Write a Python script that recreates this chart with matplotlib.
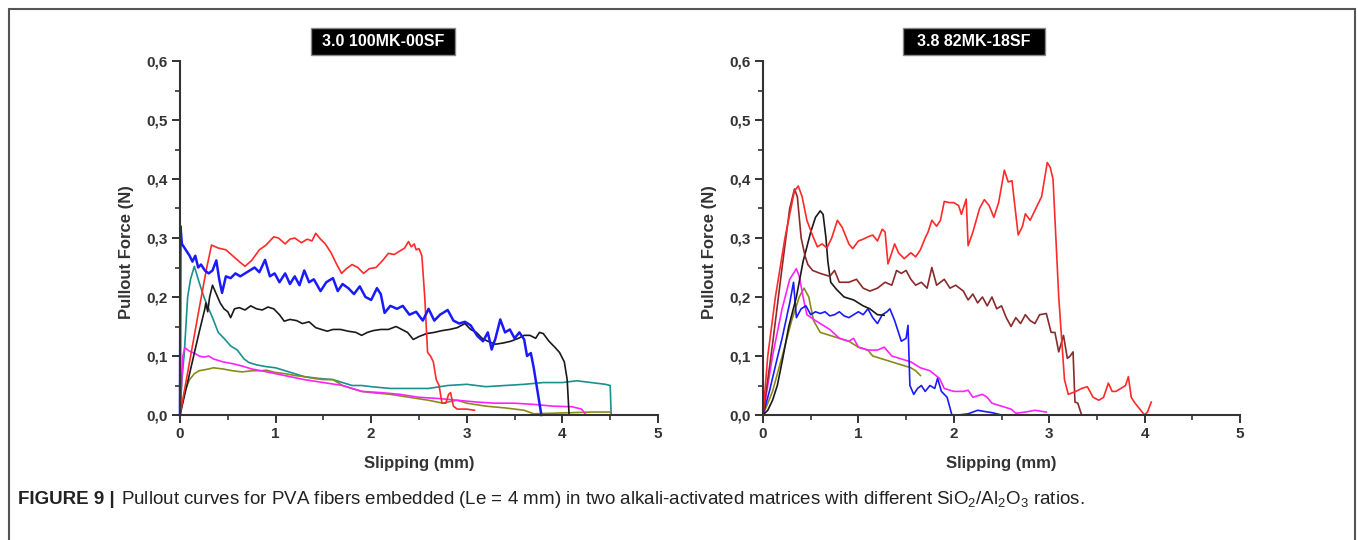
import matplotlib
matplotlib.use("Agg")
import matplotlib.pyplot as plt
from matplotlib.ticker import MultipleLocator, FuncFormatter
from matplotlib.patches import Rectangle

plt.rcParams['font.family'] = ['Liberation Sans', 'DejaVu Sans']
plt.rcParams['mathtext.fontset'] = 'custom'
plt.rcParams['mathtext.rm'] = 'Liberation Sans'
plt.rcParams['mathtext.it'] = 'Liberation Sans'
plt.rcParams['mathtext.bf'] = 'Liberation Sans:bold'

# ---------------- data ----------------
titles = ["3.0 100MK-00SF", "3.8 82MK-18SF"]
x_label = "Slipping (mm)"
y_label = "Pullout Force (N)"
caption_bold = "FIGURE 9 |"
caption_rest = ("Pullout curves for PVA fibers embedded (Le = 4 mm) in two alkali-activated "
                "matrices with different SiO$_2$/Al$_2$O$_3$ ratios.")

# Left panel (3.0 100MK-00SF)
L_red_x = [0, 0.1, 0.2, 0.28, 0.33, 0.4, 0.48, 0.55, 0.62, 0.68, 0.75, 0.83, 0.9, 0.98, 1.03, 1.1,
           1.15, 1.2, 1.27, 1.33, 1.38, 1.42, 1.47, 1.52, 1.58, 1.64, 1.69, 1.74, 1.8, 1.86, 1.92,
           1.98, 2.05, 2.12, 2.18, 2.24, 2.3, 2.35, 2.39, 2.42, 2.45, 2.47, 2.5, 2.53, 2.56, 2.59,
           2.62, 2.65, 2.68, 2.71, 2.74, 2.78, 2.81, 2.83, 2.86, 2.9, 3.0, 3.08]
L_red_y = [0, 0.09, 0.18, 0.25, 0.288, 0.283, 0.28, 0.27, 0.26, 0.252, 0.262, 0.28, 0.288, 0.302,
           0.3, 0.29, 0.298, 0.3, 0.292, 0.298, 0.295, 0.308, 0.298, 0.29, 0.275, 0.255, 0.24,
           0.248, 0.255, 0.25, 0.24, 0.248, 0.25, 0.262, 0.274, 0.272, 0.278, 0.283, 0.294, 0.285,
           0.29, 0.28, 0.282, 0.27, 0.2, 0.106, 0.1, 0.09, 0.06, 0.05, 0.02, 0.02, 0.035, 0.038,
           0.015, 0.01, 0.01, 0.008]

L_blue_x = [0, 0.005, 0.02, 0.06, 0.1, 0.13, 0.16, 0.19, 0.22, 0.26, 0.3, 0.34, 0.38, 0.41, 0.44,
            0.48, 0.53, 0.58, 0.63, 0.68, 0.73, 0.78, 0.83, 0.89, 0.94, 0.99, 1.04, 1.1, 1.15, 1.2,
            1.25, 1.3, 1.35, 1.4, 1.47, 1.53, 1.6, 1.65, 1.7, 1.76, 1.82, 1.88, 1.94, 2.0, 2.06,
            2.1, 2.14, 2.2, 2.27, 2.33, 2.4, 2.47, 2.54, 2.6, 2.66, 2.72, 2.8, 2.86, 2.92, 2.98,
            3.04, 3.11, 3.17, 3.22, 3.26, 3.3, 3.35, 3.4, 3.45, 3.5, 3.55, 3.6, 3.63, 3.67, 3.7,
            3.73, 3.76, 3.78]
L_blue_y = [0, 0.32, 0.29, 0.28, 0.27, 0.26, 0.27, 0.25, 0.255, 0.245, 0.24, 0.245, 0.262, 0.23,
            0.207, 0.235, 0.232, 0.24, 0.235, 0.24, 0.245, 0.25, 0.242, 0.263, 0.235, 0.24, 0.225,
            0.24, 0.222, 0.235, 0.22, 0.245, 0.225, 0.23, 0.21, 0.225, 0.232, 0.21, 0.222, 0.215,
            0.205, 0.218, 0.2, 0.195, 0.215, 0.205, 0.173, 0.185, 0.18, 0.185, 0.17, 0.175, 0.16,
            0.18, 0.16, 0.17, 0.178, 0.16, 0.155, 0.158, 0.152, 0.134, 0.125, 0.14, 0.111, 0.13,
            0.162, 0.14, 0.145, 0.13, 0.14, 0.128, 0.1, 0.105, 0.08, 0.05, 0.02, 0]

L_black_x = [0, 0.1, 0.2, 0.26, 0.27, 0.29, 0.31, 0.34, 0.38, 0.42, 0.46, 0.5, 0.53, 0.57, 0.62,
             0.68, 0.74, 0.8, 0.86, 0.92, 0.98, 1.04, 1.09, 1.15, 1.22, 1.28, 1.35, 1.42, 1.48,
             1.54, 1.6, 1.68, 1.76, 1.84, 1.9, 1.96, 2.02, 2.1, 2.18, 2.26, 2.32, 2.38, 2.44, 2.5,
             2.58, 2.66, 2.74, 2.82, 2.9, 2.98, 3.04, 3.1, 3.16, 3.22, 3.3, 3.38, 3.46, 3.54, 3.6,
             3.66, 3.72, 3.76, 3.8, 3.86, 3.92, 3.97, 4.02, 4.05, 4.07]
L_black_y = [0, 0.07, 0.14, 0.18, 0.19, 0.175, 0.2, 0.22, 0.205, 0.19, 0.18, 0.175, 0.165, 0.18,
             0.182, 0.178, 0.185, 0.18, 0.178, 0.183, 0.18, 0.17, 0.159, 0.162, 0.16, 0.155,
             0.158, 0.148, 0.145, 0.142, 0.145, 0.145, 0.142, 0.14, 0.135, 0.14, 0.143, 0.145,
             0.145, 0.15, 0.145, 0.14, 0.128, 0.133, 0.138, 0.14, 0.143, 0.145, 0.148, 0.155,
             0.145, 0.14, 0.13, 0.125, 0.12, 0.122, 0.125, 0.13, 0.135, 0.135, 0.13, 0.14, 0.138,
             0.125, 0.115, 0.106, 0.09, 0.06, 0]

L_teal_x = [0, 0.02, 0.045, 0.08, 0.11, 0.15, 0.2, 0.25, 0.29, 0.34, 0.4, 0.46, 0.53, 0.6, 0.67,
            0.72, 0.8, 0.9, 1.0, 1.1, 1.2, 1.3, 1.45, 1.6, 1.7, 1.8, 1.9, 2.0, 2.2, 2.4, 2.6, 2.8,
            3.0, 3.2, 3.4, 3.6, 3.8, 4.0, 4.15, 4.3, 4.45, 4.5, 4.51]
L_teal_y = [0, 0.06, 0.105, 0.2, 0.23, 0.252, 0.225, 0.2, 0.184, 0.165, 0.14, 0.13, 0.117, 0.11,
            0.095, 0.089, 0.085, 0.082, 0.08, 0.075, 0.07, 0.065, 0.062, 0.06, 0.055, 0.05, 0.05,
            0.048, 0.045, 0.045, 0.045, 0.05, 0.052, 0.048, 0.05, 0.052, 0.055, 0.055, 0.058,
            0.055, 0.052, 0.05, 0]

L_mag_x = [0, 0.03, 0.05, 0.1, 0.15, 0.2, 0.25, 0.3, 0.35, 0.45, 0.55, 0.65, 0.75, 0.85, 1.0,
           1.15, 1.3, 1.5, 1.7, 1.9, 2.1, 2.3, 2.5, 2.7, 2.9, 3.1, 3.3, 3.5, 3.7, 3.9, 4.1, 4.2,
           4.25]
L_mag_y = [0, 0.1, 0.114, 0.108, 0.105, 0.1, 0.098, 0.1, 0.095, 0.09, 0.087, 0.083, 0.078,
           0.075, 0.07, 0.065, 0.06, 0.055, 0.05, 0.04, 0.038, 0.035, 0.03, 0.028, 0.025, 0.022,
           0.02, 0.02, 0.018, 0.015, 0.014, 0.01, 0]

L_olive_x = [0, 0.05, 0.1, 0.15, 0.2, 0.3, 0.35, 0.45, 0.55, 0.65, 0.75, 0.85, 0.9, 1.0, 1.1,
             1.2, 1.3, 1.4, 1.5, 1.6, 1.7, 1.8, 1.9, 2.0, 2.2, 2.4, 2.6, 2.75, 2.8, 2.9, 3.0, 3.2,
             3.4, 3.6, 3.7, 3.9, 4.1, 4.3, 4.5]
L_olive_y = [0, 0.04, 0.06, 0.07, 0.075, 0.078, 0.08, 0.078, 0.075, 0.073, 0.075, 0.075, 0.076,
             0.072, 0.07, 0.067, 0.065, 0.062, 0.06, 0.06, 0.05, 0.045, 0.04, 0.038, 0.035, 0.03,
             0.025, 0.02, 0.022, 0.025, 0.02, 0.015, 0.012, 0.008, 0.002, 0.003, 0.004, 0.005,
             0.005]

# Right panel (3.8 82MK-18SF)
R_red_x = [0, 0.05, 0.13, 0.23, 0.33, 0.37, 0.41, 0.46, 0.52, 0.57, 0.62, 0.67, 0.72, 0.78, 0.83,
           0.9, 0.94, 1.0, 1.05, 1.1, 1.15, 1.2, 1.25, 1.28, 1.31, 1.35, 1.38, 1.42, 1.48, 1.55,
           1.6, 1.65, 1.7, 1.73, 1.77, 1.82, 1.86, 1.9, 1.95, 2.0, 2.05, 2.08, 2.13, 2.15, 2.2,
           2.27, 2.32, 2.37, 2.42, 2.47, 2.53, 2.57, 2.61, 2.675, 2.72, 2.75, 2.8, 2.86, 2.92,
           2.98, 3.01, 3.04, 3.07, 3.1, 3.13, 3.16, 3.2, 3.28, 3.34, 3.4, 3.46, 3.52, 3.57, 3.62,
           3.66, 3.7, 3.75, 3.8, 3.83, 3.86, 3.9, 3.95, 4.0, 4.03, 4.07]
R_red_y = [0, 0.1, 0.2, 0.3, 0.38, 0.388, 0.37, 0.33, 0.304, 0.285, 0.29, 0.283, 0.3, 0.33,
           0.318, 0.29, 0.282, 0.295, 0.298, 0.302, 0.305, 0.295, 0.315, 0.31, 0.256, 0.275,
           0.29, 0.275, 0.265, 0.275, 0.268, 0.28, 0.3, 0.31, 0.33, 0.32, 0.33, 0.362, 0.36,
           0.36, 0.355, 0.34, 0.366, 0.287, 0.31, 0.35, 0.365, 0.355, 0.335, 0.36, 0.415, 0.395,
           0.397, 0.305, 0.32, 0.341, 0.33, 0.35, 0.37, 0.428, 0.42, 0.4, 0.3, 0.2, 0.13, 0.06,
           0.035, 0.04, 0.045, 0.048, 0.03, 0.025, 0.03, 0.054, 0.04, 0.04, 0.045, 0.05, 0.065,
           0.03, 0.02, 0.01, 0.0, 0.005, 0.022]

R_brown_x = [0, 0.1, 0.2, 0.28, 0.33, 0.36, 0.4, 0.44, 0.47, 0.52, 0.6, 0.7, 0.75, 0.8, 0.9,
             0.98, 1.05, 1.12, 1.2, 1.28, 1.35, 1.4, 1.45, 1.5, 1.55, 1.6, 1.66, 1.72, 1.77, 1.82,
             1.9, 1.96, 2.02, 2.1, 2.15, 2.2, 2.25, 2.3, 2.35, 2.4, 2.45, 2.5, 2.55, 2.6, 2.65,
             2.7, 2.75, 2.8, 2.85, 2.9, 2.97, 3.02, 3.06, 3.1, 3.15, 3.19, 3.22, 3.25, 3.27, 3.3,
             3.34]
R_brown_y = [0, 0.12, 0.25, 0.35, 0.383, 0.37, 0.3, 0.27, 0.255, 0.245, 0.24, 0.235, 0.245,
             0.225, 0.225, 0.23, 0.215, 0.21, 0.215, 0.225, 0.22, 0.245, 0.24, 0.245, 0.23, 0.22,
             0.225, 0.215, 0.25, 0.22, 0.23, 0.215, 0.22, 0.21, 0.195, 0.205, 0.19, 0.2, 0.185,
             0.2, 0.18, 0.185, 0.165, 0.15, 0.165, 0.155, 0.17, 0.16, 0.155, 0.17, 0.172, 0.14,
             0.14, 0.107, 0.135, 0.096, 0.1, 0.107, 0.022, 0.02, 0]

R_black_x = [0, 0.05, 0.1, 0.15, 0.2, 0.27, 0.35, 0.42, 0.5, 0.55, 0.6, 0.63, 0.66, 0.68, 0.71,
             0.77, 0.85, 0.95, 1.05, 1.12, 1.2, 1.27]
R_black_y = [0, 0.008, 0.025, 0.05, 0.09, 0.15, 0.2, 0.26, 0.31, 0.335, 0.346, 0.34, 0.3, 0.26,
             0.225, 0.213, 0.2, 0.195, 0.185, 0.18, 0.17, 0.169]

R_blue_x = [0, 0.07, 0.14, 0.2, 0.28, 0.32, 0.35, 0.4, 0.45, 0.5, 0.55, 0.6, 0.65, 0.7, 0.75,
            0.8, 0.85, 0.9, 0.95, 1.0, 1.05, 1.1, 1.15, 1.2, 1.25, 1.3, 1.33, 1.38, 1.42, 1.45,
            1.5, 1.52, 1.54, 1.58, 1.62, 1.66, 1.7, 1.75, 1.8, 1.83, 1.87, 1.93, 1.98, 2.05, 2.15,
            2.25, 2.32, 2.4, 2.5]
R_blue_y = [0, 0.042, 0.09, 0.13, 0.19, 0.225, 0.165, 0.18, 0.185, 0.17, 0.175, 0.172, 0.175,
            0.168, 0.17, 0.175, 0.168, 0.165, 0.17, 0.175, 0.17, 0.18, 0.165, 0.155, 0.17, 0.175,
            0.18, 0.16, 0.14, 0.125, 0.13, 0.152, 0.05, 0.035, 0.045, 0.05, 0.04, 0.05, 0.045,
            0.062, 0.04, 0.03, 0.0, 0.0, 0.002, 0.008, 0.006, 0.004, 0.0]

R_mag_x = [0, 0.1, 0.2, 0.28, 0.35, 0.38, 0.42, 0.46, 0.55, 0.65, 0.7, 0.8, 0.9, 0.95, 1.0, 1.1,
           1.2, 1.27, 1.35, 1.45, 1.55, 1.65, 1.75, 1.85, 1.9, 2.0, 2.1, 2.15, 2.2, 2.3, 2.35,
           2.4, 2.5, 2.6, 2.65, 2.75, 2.85, 2.97]
R_mag_y = [0, 0.1, 0.18, 0.23, 0.248, 0.235, 0.2, 0.17, 0.16, 0.15, 0.145, 0.13, 0.125, 0.13,
           0.115, 0.11, 0.11, 0.115, 0.1, 0.095, 0.09, 0.08, 0.075, 0.062, 0.045, 0.04, 0.04,
           0.042, 0.03, 0.035, 0.03, 0.02, 0.015, 0.01, 0.003, 0.005, 0.008, 0.005]

R_olive_x = [0, 0.1, 0.21, 0.3, 0.38, 0.43, 0.48, 0.53, 0.6, 0.7, 0.8, 0.9, 1.0, 1.1, 1.15, 1.25,
             1.35, 1.45, 1.55, 1.6, 1.65]
R_olive_y = [0, 0.04, 0.105, 0.16, 0.2, 0.215, 0.2, 0.16, 0.14, 0.135, 0.13, 0.125, 0.115, 0.11,
             0.1, 0.095, 0.09, 0.085, 0.08, 0.075, 0.067]

colors = {"red": "#ff2a2a", "blue": "#1a1aff", "black": "#1a1a1a", "teal": "#1a9090",
          "magenta": "#ff22ff", "olive": "#8a8a1a", "brown": "#8b2a2a"}

left_series = [
    (L_teal_x, L_teal_y, "teal", 1.2),
    (L_olive_x, L_olive_y, "olive", 1.2),
    (L_mag_x, L_mag_y, "magenta", 1.2),
    (L_black_x, L_black_y, "black", 1.2),
    (L_red_x, L_red_y, "red", 1.2),
    (L_blue_x, L_blue_y, "blue", 1.8),
]
right_series = [
    (R_olive_x, R_olive_y, "olive", 1.2),
    (R_mag_x, R_mag_y, "magenta", 1.2),
    (R_blue_x, R_blue_y, "blue", 1.2),
    (R_black_x, R_black_y, "black", 1.2),
    (R_brown_x, R_brown_y, "brown", 1.2),
    (R_red_x, R_red_y, "red", 1.2),
]

# ---------------- figure ----------------
W, H = 1358, 540
fig = plt.figure(figsize=(W / 100, H / 100), dpi=100)

def px_axes(x0, x1, y_top, y_bot):
    return [x0 / W, 1 - y_bot / H, (x1 - x0) / W, (y_bot - y_top) / H]

panels = [
    (fig.add_axes(px_axes(180, 658, 61, 415)), left_series, titles[0], (311, 455)),
    (fig.add_axes(px_axes(763, 1240, 61, 415)), right_series, titles[1], (903, 1045)),
]

fmt_y = FuncFormatter(lambda v, p: f"{v:.1f}".replace(".", ","))
fmt_x = FuncFormatter(lambda v, p: f"{v:.0f}")

axis_col = "#333333"
for ax, series, title, (bx0, bx1) in panels:
    for xs, ys, c, lw in series:
        ax.plot(xs, ys, color=colors[c], lw=lw, solid_joinstyle="round", clip_on=False)
    ax.set_xlim(0, 5)
    ax.set_ylim(0, 0.6)
    for s in ["top", "right"]:
        ax.spines[s].set_visible(False)
    for s in ["left", "bottom"]:
        ax.spines[s].set_color(axis_col)
        ax.spines[s].set_linewidth(1.5)
    ax.xaxis.set_major_locator(MultipleLocator(1))
    ax.xaxis.set_minor_locator(MultipleLocator(0.5))
    ax.yaxis.set_major_locator(MultipleLocator(0.1))
    ax.yaxis.set_minor_locator(MultipleLocator(0.05))
    ax.xaxis.set_major_formatter(fmt_x)
    ax.yaxis.set_major_formatter(fmt_y)
    ax.tick_params(which="major", direction="out", length=6, width=1.4, color=axis_col,
                   labelsize=11, labelcolor="#333333", pad=3)
    ax.tick_params(which="minor", direction="out", length=3.5, width=1.2, color=axis_col)
    for lab in ax.get_xticklabels() + ax.get_yticklabels():
        lab.set_fontweight("bold")
    ax.set_xlabel(x_label, fontsize=12, fontweight="bold", color="#333333")
    ax.set_ylabel(y_label, fontsize=12, fontweight="bold", color="#333333")
    ax.xaxis.set_label_coords(0.5, -0.115)
    ax.yaxis.set_label_coords(-0.097, 0.46)
    # black title box
    fig.patches.append(Rectangle((bx0 / W, 1 - 55 / H), (bx1 - bx0) / W, 27 / H,
                                 transform=fig.transFigure, facecolor="black",
                                 edgecolor="#888888", lw=1))
    fig.text((bx0 + bx1) / 2 / W, 1 - 41.5 / H, title, ha="center", va="center",
             fontsize=11.5, fontweight="bold", color="white")

# outer frame
fig.patches.append(Rectangle((8.5 / W, -0.2), (1355 - 8.5) / W, 1.2 - 8.5 / H,
                             transform=fig.transFigure, fill=False, edgecolor="#555555",
                             lw=1.5))

# caption
t1 = fig.text(18 / W, 1 - 500 / H, caption_bold, fontsize=13.5, fontweight="bold",
              color="#222222", va="center", ha="left")
fig.canvas.draw()
bb = t1.get_window_extent(renderer=fig.canvas.get_renderer())
fig.text((bb.x1 + 6) / W, 1 - 500 / H, caption_rest, fontsize=13.5, color="#222222",
         va="center", ha="left")

fig.savefig("out.png", dpi=100)
